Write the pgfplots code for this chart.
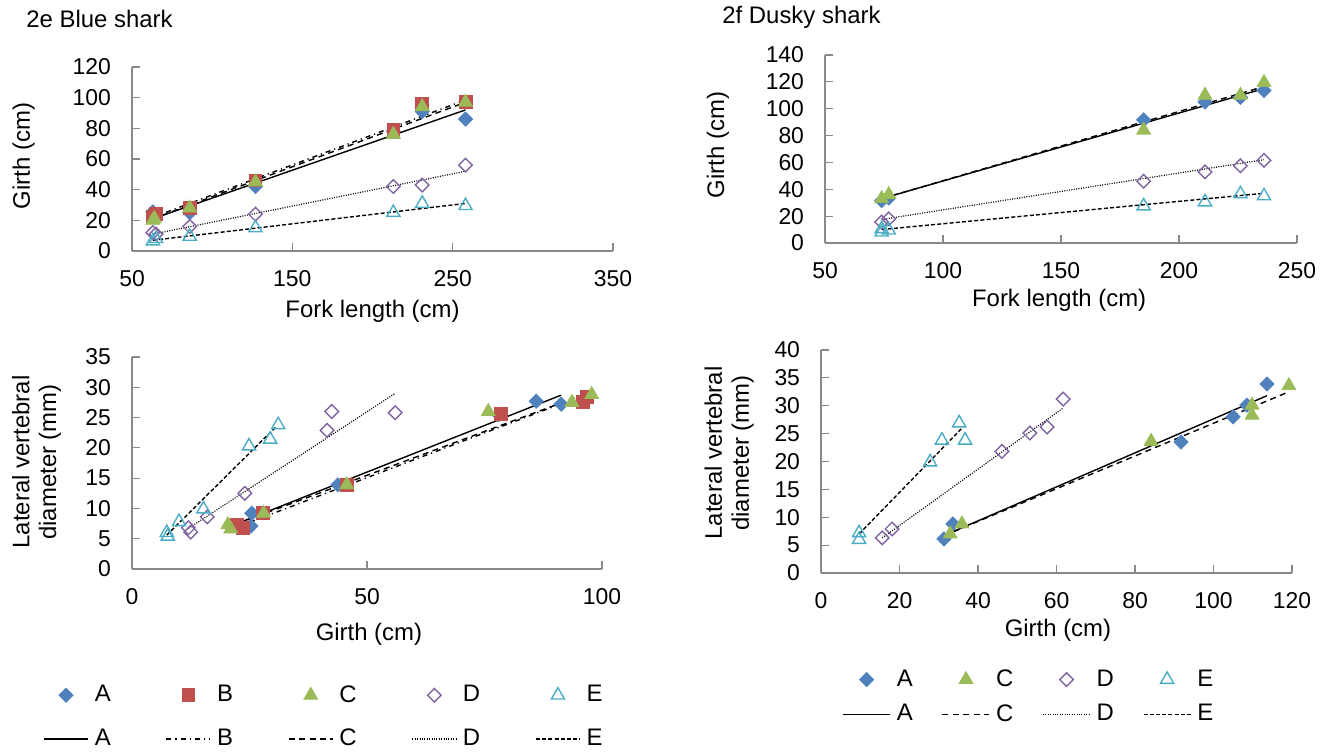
\documentclass[border=0pt]{standalone}
\usepackage{fontspec}
\setmainfont{Liberation Sans}
\usepackage{pgfplots}
\pgfplotsset{compat=1.18}

\definecolor{cA}{HTML}{4F81BD}
\definecolor{cB}{HTML}{C0504D}
\definecolor{cC}{HTML}{9BBB59}
\definecolor{cD}{HTML}{8064A2}
\definecolor{cE}{HTML}{4BACC6}
\definecolor{cAxis}{HTML}{898989}

\newcommand{\fs}{\fontsize{12}{13.5}\selectfont}
\newcommand{\ft}{\fontsize{11.5}{13}\selectfont}

\pgfplotsset{
  xlstyle/.style={
    scale only axis, clip=false,
    axis x line=bottom, axis y line=left,
    axis line style={draw=cAxis, line width=0.6bp, -},
    tick align=inside, major tick length=4bp,
    major tick style={draw=cAxis, line width=0.6bp},
    tick label style={font=\ft},
    label style={font=\fs},
    /pgf/number format/assume math mode=true,
    /pgf/number format/1000 sep={},
    yticklabel style={xshift=-7bp},
    xticklabel style={yshift=-6bp},
  },
  sA/.style={only marks, mark=square*, mark size=2.5bp, mark options={rotate=45, draw=cA, fill=cA}},
  sB/.style={only marks, mark=square*, mark size=3.2bp, mark options={draw=cB, fill=cB}},
  sC/.style={only marks, mark=triangle*, mark size=4bp, mark options={draw=cC, fill=cC}},
  sD/.style={only marks, mark=square, mark size=2.4bp, mark options={rotate=45, draw=cD, line width=0.7bp}},
  sE/.style={only marks, mark=triangle, mark size=3.8bp, mark options={draw=cE, line width=0.7bp}},
  tA/.style={no marks, black, line width=0.7bp, solid},
  tB/.style={no marks, black, line width=0.7bp, dash pattern=on 2.5bp off 2bp on 0.6bp off 2bp},
  tC/.style={no marks, black, line width=0.7bp, dash pattern=on 3bp off 2.2bp},
  tD/.style={no marks, black, line width=0.6bp, dash pattern=on 0.5bp off 0.7bp},
  tE/.style={no marks, black, line width=0.7bp, dash pattern=on 2bp off 1.1bp},
}

\begin{document}
\begin{tikzpicture}[x=0.5bp, y=0.5bp]
\useasboundingbox (0,0) rectangle (1336,752);
\node[anchor=west, inner sep=0, font=\fs] at (26,733) {2e Blue shark};
\node[anchor=west, inner sep=0, font=\fs] at (722,735) {2f Dusky shark};

% 2e: fork length vs girth
\begin{axis}[xlstyle, at={(66bp,250.5bp)}, anchor=south west, width=240.5bp, height=92bp,
  xmin=50, xmax=350, ymin=0, ymax=120, xtick={50,150,250,350}, ytick={0,20,...,120},
  xlabel={Fork length (cm)}, ylabel={Girth (cm)},
  xlabel style={at={(axis description cs:0.5,-0.326)}, anchor=center},
  ylabel style={at={(axis description cs:-0.225,0.516)}, anchor=center},
]
\addplot[sA] coordinates {(63,25.5)(86,25)(127,42)(213,78)(231,91)(258,86)};
\addplot[sB] coordinates {(63,22.5)(65,24)(86,28)(127,46)(213,79)(231,96)(258,97)};
\addplot[sC] coordinates {(63,20)(64,21)(86,28)(127,45)(213,76)(231,94)(258,97)};
\addplot[sD] coordinates {(63,12)(65,11)(86,16)(127,24)(213,42)(231,43)(258,56)};
\addplot[sE] coordinates {(63,6.5)(65,8)(86,9.5)(127,15)(213,25)(231,31)(258,29.5)};
\addplot[tA] coordinates {(63,21)(258,92)};
\addplot[tB] coordinates {(63,22)(258,98.5)};
\addplot[tC] coordinates {(63,21)(258,97)};
\addplot[tD] coordinates {(63,11)(258,52)};
\addplot[tE] coordinates {(63,7)(258,31)};
\end{axis}

% 2f: fork length vs girth
\begin{axis}[xlstyle, at={(412.5bp,254.5bp)}, anchor=south west, width=236bp, height=94bp,
  xmin=50, xmax=250, ymin=0, ymax=140, xtick={50,100,...,250}, ytick={0,20,...,140},
  xlabel={Fork length (cm)}, ylabel={Girth (cm)},
  xlabel style={at={(axis description cs:0.496,-0.303)}, anchor=center},
  ylabel style={at={(axis description cs:-0.227,0.521)}, anchor=center},
]
\addplot[sA] coordinates {(74,31.5)(77,33.5)(185,91.7)(211,105)(226,108.5)(236,113.6)};
\addplot[sC] coordinates {(74,33)(77,36)(185,84)(211,110)(226,110)(236,119.5)};
\addplot[sD] coordinates {(74,15.6)(77,18)(185,46)(211,53)(226,57.5)(236,61.5)};
\addplot[sE] coordinates {(74,8)(74,10.5)(77,9.5)(185,27.5)(211,30.5)(226,36.5)(236,35)};
\addplot[tA] coordinates {(74,33)(236,115)};
\addplot[tC] coordinates {(74,33)(236,116.5)};
\addplot[tD] coordinates {(74,17.5)(236,62)};
\addplot[tE] coordinates {(74,10)(236,37)};
\end{axis}

% 2e: girth vs lateral vertebral diameter
\begin{axis}[xlstyle, at={(66bp,91.5bp)}, anchor=south west, width=235bp, height=106bp,
  xmin=0, xmax=100, ymin=0, ymax=35, xtick={0,50,100}, ytick={0,5,...,35},
  xlabel={Girth (cm)}, ylabel={Lateral vertebral\\diameter (mm)},
  xlabel style={at={(axis description cs:0.504,-0.307)}, anchor=center},
  ylabel style={at={(axis description cs:-0.203,0.505)}, anchor=center, align=center},
  legend columns=5, legend cell align=left,
  legend style={at={(axis description cs:-0.1894,-0.5189)}, anchor=north west,
    draw=none, fill=none, inner sep=0pt, font=\fs, nodes={inner sep=3bp},
    /tikz/every even column/.append style={column sep=24.5bp}, row sep=6bp},
  legend image code/.code={\draw[mark repeat=2,mark phase=2,#1] plot coordinates {(0bp,0bp)(11bp,0bp)(22bp,0bp)};},
]
\addplot[sA] coordinates {(25.3,7.1)(25.5,9.2)(43.8,13.9)(78,25.5)(86,27.7)(91.3,27.2)};
\addplot[sB] coordinates {(22.3,7.3)(23.6,6.8)(27.9,9.2)(45.7,13.9)(78.5,25.6)(96,27.6)(96.8,28.4)};
\addplot[sC] coordinates {(20.4,7.3)(21,6.6)(28,9.2)(45.7,13.9)(75.8,26)(93.6,27.5)(97.8,28.8)};
\addplot[sD] coordinates {(12,6.8)(12.5,6.1)(16,8.6)(24,12.5)(41.5,22.9)(42.5,26)(56,25.8)};
\addplot[sE] coordinates {(7.4,6)(7.6,5.4)(10,7.8)(15.2,9.9)(24.9,20.3)(29.4,21.4)(31.1,23.8)};
\addplot[tA] coordinates {(20.4,6.9)(91.3,28.7)};
\addplot[tB] coordinates {(22.3,6.9)(96.8,28.9)};
\addplot[tC] coordinates {(20.4,6.9)(97.8,29.3)};
\addplot[tD] coordinates {(12,6.7)(55.8,28.9)};
\addplot[tE] coordinates {(7.4,5.6)(30.8,23.6)};
\legend{A,B,C,D,E,A,B,C,D,E}
\end{axis}

% 2f: girth vs lateral vertebral diameter
\begin{axis}[xlstyle, at={(410.5bp,89.5bp)}, anchor=south west, width=235.5bp, height=111.5bp,
  xmin=0, xmax=120, ymin=0, ymax=40, xtick={0,20,...,120}, ytick={0,5,...,40},
  xlabel={Girth (cm)}, ylabel={Lateral vertebral\\diameter (mm)},
  xlabel style={at={(axis description cs:0.503,-0.256)}, anchor=center},
  ylabel style={at={(axis description cs:-0.195,0.538)}, anchor=center, align=center},
  legend columns=4, legend cell align=left,
  legend style={at={(axis description cs:0.0446,-0.405)}, anchor=north west,
    draw=none, fill=none, inner sep=0pt, font=\fs, nodes={inner sep=3bp},
    /tikz/every even column/.append style={column sep=11.5bp}, row sep=1.5bp},
  legend image code/.code={\draw[mark repeat=2,mark phase=2,#1] plot coordinates {(0bp,0bp)(11.75bp,0bp)(23.5bp,0bp)};},
]
\addplot[sA] coordinates {(31.3,6.1)(33.6,8.8)(91.7,23.5)(105,28)(108.5,30.1)(113.6,33.9)};
\addplot[sC] coordinates {(32.9,7)(35.9,8.8)(84.1,23.6)(109.8,30.1)(109.8,28.3)(119.2,33.6)};
\addplot[sD] coordinates {(15.6,6.3)(18.1,7.9)(46.1,21.8)(53.2,25.1)(57.6,26.2)(61.7,31.2)};
\addplot[sE] coordinates {(9.7,6)(9.7,7.2)(27.8,19.9)(30.8,23.8)(35.2,26.9)(36.7,23.8)};
\addplot[tA] coordinates {(31.3,6.7)(113.6,31.8)};
\addplot[tC] coordinates {(31.3,6.7)(119.2,32.5)};
\addplot[tD] coordinates {(15.6,6.3)(61.7,29.6)};
\addplot[tE] coordinates {(9.7,7)(36.2,26.2)};
\legend{A,C,D,E,A,C,D,E}
\end{axis}
\end{tikzpicture}
\end{document}
